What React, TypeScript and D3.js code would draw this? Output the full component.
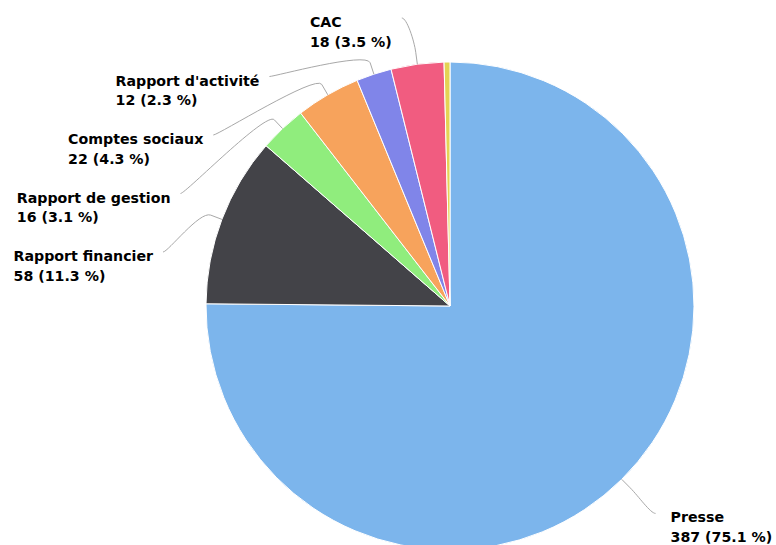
import { arc, pie, select, PieArcDatum } from "d3";
import { useEffect, useRef } from "react";

const names = [
  "Presse",
  "Rapport financier",
  "Rapport de gestion",
  "Comptes sociaux",
  "Rapport d'activité",
  "CAC",
  "Autres"
];
const values = [387, 58, 16, 22, 12, 18, 2];
const colors = ["#7cb5ec", "#434348", "#90ed7d", "#f7a35c", "#8085e9", "#f15c80", "#e4d354"];

const W = 776;
const H = 545;
const cx = 450;
const cy = 306;
const r = 244;
const labelR = 292;

type Slice = { name: string; value: number; color: string };

const App = () => {
  const svgRef = useRef<SVGSVGElement>(null);

  useEffect(() => {
    const svg = select(svgRef.current);
    svg.selectAll("*").remove();

    const data: Slice[] = names.map((n, i) => ({ name: n, value: values[i], color: colors[i] }));
    const total = values.reduce((a, b) => a + b, 0);

    const arcs = pie<Slice>()
      .sort(null)
      .value(d => d.value)
      .startAngle(0)
      .endAngle(2 * Math.PI)(data);

    const arcGen = arc<PieArcDatum<Slice>>().innerRadius(0).outerRadius(r);

    const g = svg.append("g");
    g.selectAll("path.slice")
      .data(arcs)
      .join("path")
      .attr("class", "slice")
      .attr("transform", `translate(${cx},${cy})`)
      .attr("d", arcGen)
      .attr("fill", d => d.data.color)
      .attr("stroke", "#fff")
      .attr("stroke-width", 1)
      .attr("stroke-linejoin", "round");

    const pt = (a: number, rad: number) => [cx + rad * Math.sin(a), cy - rad * Math.cos(a)];

    // label positions (small slices get no label)
    const shown = arcs
      .filter(a => a.data.value / total >= 0.01)
      .map(a => {
        const mid = (a.startAngle + a.endAngle) / 2;
        const [nx, ny] = pt(mid, labelR);
        return { a, mid, left: mid >= Math.PI, x: nx, y: ny };
      });

    const left = shown.filter(l => l.left).sort((p, q) => p.y - q.y);
    let prev = -Infinity;
    left.forEach(l => {
      l.y = Math.max(l.y, prev + 58.5, 18);
      prev = l.y;
      l.x = cx - Math.sqrt(Math.max(0, labelR * labelR - (l.y - cy) * (l.y - cy)));
    });

    shown.forEach(l => {
      const [tx, ty] = pt(l.mid, r);
      const [bx, by] = pt(l.mid, r + 12);
      const dx = l.left ? 5 : -5;
      g.append("path")
        .attr(
          "d",
          `M${l.x},${l.y}C${l.x + dx},${l.y} ${2 * bx - tx},${2 * by - ty} ${bx},${by}L${tx},${ty}`
        )
        .attr("fill", "none")
        .attr("stroke", "#a8a8a8")
        .attr("stroke-width", 1);

      const pct = ((l.a.data.value / total) * 100).toFixed(1);
      const t = g
        .append("text")
        .attr("font-family", "DejaVu Sans, sans-serif")
        .attr("font-size", 14.2)
        .attr("font-weight", "bold")
        .attr("fill", "#000");
      t.append("tspan").attr("x", 0).text(l.a.data.name);
      t.append("tspan").attr("x", 0).text(`${l.a.data.value} (${pct} %)`);
      const w = (t.node() as SVGTextElement).getBBox().width;
      const x0 = l.left ? l.x - 10 - w : l.x + 15;
      t.selectAll("tspan")
        .attr("x", x0)
        .attr("y", (_d, i) => l.y + 9 + i * 19.5);
    });
  }, []);

  return (
    <svg
      ref={svgRef}
      width={W}
      height={H}
      style={{ position: "absolute", left: 0, top: 0, background: "#fff" }}
    />
  );
};

export default App;
